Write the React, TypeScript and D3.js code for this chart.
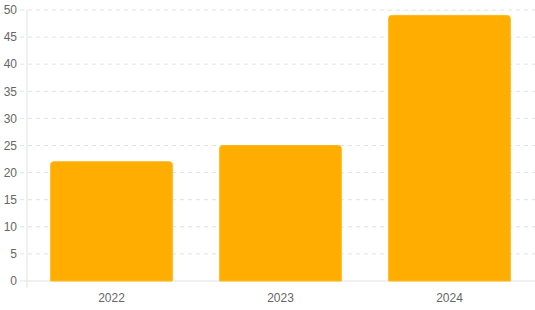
import React from "react";
import * as d3 from "d3";

const categories = ["2022", "2023", "2024"];
const values = [22, 25, 49];
const yTicks = [0, 5, 10, 15, 20, 25, 30, 35, 40, 45, 50];

const W = 535;
const H = 310;
const M = { left: 27, right: 1, top: 10, bottom: 29 };

export default function App() {
  const x = d3
    .scaleBand<string>()
    .domain(categories)
    .range([M.left, W - M.right])
    .paddingInner(0.28)
    .paddingOuter(0.14);
  const y = d3.scaleLinear().domain([0, 50]).range([H - M.bottom, M.top]);
  const r = 3;
  const barPath = (cx: number, w: number, top: number, bottom: number) => {
    const p = d3.path();
    p.moveTo(cx, bottom);
    p.lineTo(cx, top + r);
    p.arcTo(cx, top, cx + r, top, r);
    p.lineTo(cx + w - r, top);
    p.arcTo(cx + w, top, cx + w, top + r, r);
    p.lineTo(cx + w, bottom);
    p.closePath();
    return p.toString();
  };
  return (
    <svg
      width={W}
      height={H}
      style={{ position: "absolute", left: 0, top: 0, fontFamily: "Liberation Sans, Arial, sans-serif" }}
    >
      {yTicks.map((t) => (
        <g key={t}>
          {t > 0 && (
            <line
              x1={M.left - 7}
              x2={W}
              y1={y(t)}
              y2={y(t)}
              stroke="#e2e2e2"
              strokeDasharray="4,4"
            />
          )}
          {t === 0 && (
            <line x1={M.left - 7} x2={M.left} y1={y(t)} y2={y(t)} stroke="#e2e2e2" />
          )}
          <text
            x={M.left - 10}
            y={y(t)}
            dy="0.35em"
            textAnchor="end"
            fontSize={12}
            fill="#666"
          >
            {t}
          </text>
        </g>
      ))}
      <line x1={M.left} x2={M.left} y1={M.top} y2={H - M.bottom + 7} stroke="#e2e2e2" />
      <line x1={M.left} x2={W} y1={y(0)} y2={y(0)} stroke="#e2e2e2" />
      {categories.map((c, i) => (
        <g key={c}>
          <path
            d={barPath(x(c)!, x.bandwidth(), y(values[i]), y(0))}
            fill="#ffae00"
            stroke="#ffb818"
            strokeWidth={1}
          />
          <text
            x={x(c)! + x.bandwidth() / 2}
            y={H - 8}
            textAnchor="middle"
            fontSize={12}
            fill="#666"
          >
            {c}
          </text>
        </g>
      ))}
    </svg>
  );
}
